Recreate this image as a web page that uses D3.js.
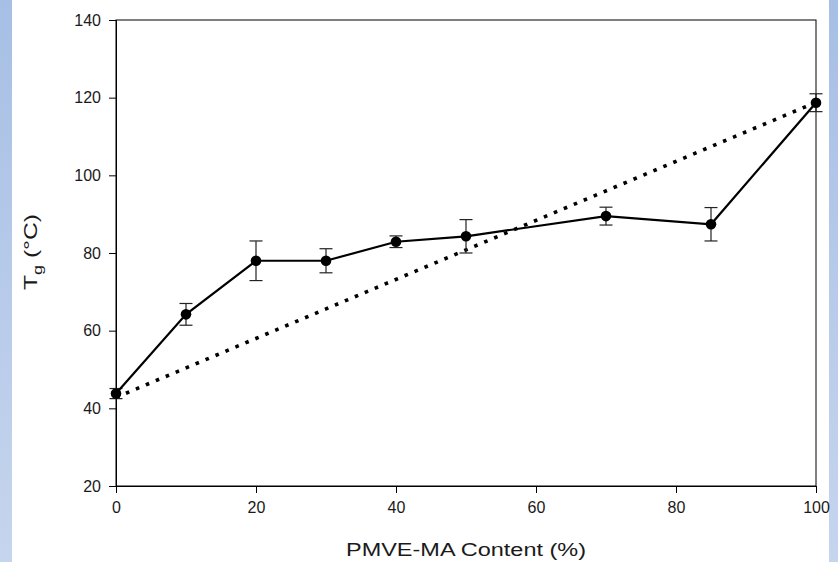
<!DOCTYPE html>
<html>
<head>
<meta charset="utf-8">
<script src="https://cdn.jsdelivr.net/npm/d3@7"></script>
<style>
  body { margin: 0; background: #fff; }
  svg { display: block; font-family: "Liberation Sans", Arial, sans-serif; }
</style>
</head>
<body>
<div id="chart"></div>
<script>
// Glass transition vs. PMVE-MA content
const content = [0, 10, 20, 30, 40, 50, 70, 85, 100];
const tg      = [43.8, 64.2, 78.0, 78.0, 82.9, 84.3, 89.5, 87.4, 118.7];
const tgErr   = [1.3, 2.8, 5.1, 3.1, 1.5, 4.3, 2.3, 4.3, 2.3];

// dotted reference line between the pure components
const mixContent = [0, 100];
const mixTg      = [42.8, 118.8];

const xTicks = [0, 20, 40, 60, 80, 100];
const yTicks = [20, 40, 60, 80, 100, 120, 140];

const width = 838, height = 562;
const margin = { top: 20, right: 22, bottom: 76, left: 116 };

const svg = d3.select("#chart").append("svg")
  .attr("width", width)
  .attr("height", height);

// pale blue side strips
const defs = svg.append("defs");
const grad = defs.append("linearGradient")
  .attr("id", "strip").attr("x1", 0).attr("y1", 0).attr("x2", 0).attr("y2", 1);
grad.append("stop").attr("offset", "0%").attr("stop-color", "#a7bfe5");
grad.append("stop").attr("offset", "100%").attr("stop-color", "#c6d5ee");
svg.append("rect").attr("x", 0).attr("y", 0).attr("width", 12).attr("height", height).attr("fill", "url(#strip)");
svg.append("rect").attr("x", 829).attr("y", 0).attr("width", 9).attr("height", height).attr("fill", "url(#strip)");

const x = d3.scaleLinear().domain([0, 100]).range([margin.left, width - margin.right]);
const y = d3.scaleLinear().domain([20, 140]).range([height - margin.bottom, margin.top]);

// frame
svg.append("rect")
  .attr("x", x(0)).attr("y", y(140))
  .attr("width", x(100) - x(0)).attr("height", y(20) - y(140))
  .attr("fill", "none").attr("stroke", "#000").attr("stroke-width", 1);

const xAxis = svg.append("g")
  .attr("transform", `translate(0,${y(20)})`)
  .call(d3.axisBottom(x).tickValues(xTicks).tickSize(7).tickPadding(9).tickFormat(d3.format("d")));
const yAxis = svg.append("g")
  .attr("transform", `translate(${x(0)},0)`)
  .call(d3.axisLeft(y).tickValues(yTicks).tickSize(7).tickPadding(8).tickFormat(d3.format("d")));

[xAxis, yAxis].forEach(a => {
  a.select(".domain").attr("stroke", "#000");
  a.selectAll(".tick line").attr("stroke", "#000");
  a.selectAll(".tick text")
    .attr("fill", "#1a1a1a")
    .style("font-size", "16px")
    .style("font-family", "\"Liberation Sans\", Arial, sans-serif");
});

// dotted line
const mixLine = d3.line().x(d => x(d[0])).y(d => y(d[1]));
svg.append("path")
  .datum(d3.zip(mixContent, mixTg))
  .attr("d", mixLine)
  .attr("fill", "none")
  .attr("stroke", "#000")
  .attr("stroke-width", 3.6)
  .attr("stroke-dasharray", "3.6,7.2");

const pts = d3.zip(content, tg, tgErr);

// error bars
const capW = 6.5;
const eb = svg.append("g").attr("stroke", "#222").attr("stroke-width", 1.2);
pts.forEach(([c, v, e]) => {
  eb.append("line").attr("x1", x(c)).attr("x2", x(c)).attr("y1", y(v - e)).attr("y2", y(v + e));
  eb.append("line").attr("x1", x(c) - capW).attr("x2", x(c) + capW).attr("y1", y(v - e)).attr("y2", y(v - e));
  eb.append("line").attr("x1", x(c) - capW).attr("x2", x(c) + capW).attr("y1", y(v + e)).attr("y2", y(v + e));
});

// measured series
svg.append("path")
  .datum(pts)
  .attr("d", d3.line().x(d => x(d[0])).y(d => y(d[1])))
  .attr("fill", "none")
  .attr("stroke", "#000")
  .attr("stroke-width", 2.2);

svg.append("g").selectAll("circle")
  .data(pts)
  .join("circle")
  .attr("cx", d => x(d[0]))
  .attr("cy", d => y(d[1]))
  .attr("r", 5.3)
  .attr("fill", "#000");

// axis titles (the text is drawn wide, so stretch to fixed lengths)
svg.append("text")
  .attr("x", (x(0) + x(100)) / 2)
  .attr("y", 556)
  .attr("text-anchor", "middle")
  .attr("fill", "#1a1a1a")
  .attr("textLength", 240)
  .attr("lengthAdjust", "spacingAndGlyphs")
  .style("font-size", "18px")
  .text("PMVE-MA Content (%)");

const yt = svg.append("text")
  .attr("transform", `translate(37,252) rotate(-90)`)
  .attr("text-anchor", "middle")
  .attr("fill", "#1a1a1a")
  .attr("textLength", 76)
  .attr("lengthAdjust", "spacingAndGlyphs")
  .style("font-size", "18px");
yt.append("tspan").text("T");
yt.append("tspan").attr("dy", 5).style("font-size", "13px").text("g");
yt.append("tspan").attr("dy", -5).text(" (°C)");
</script>
</body>
</html>
